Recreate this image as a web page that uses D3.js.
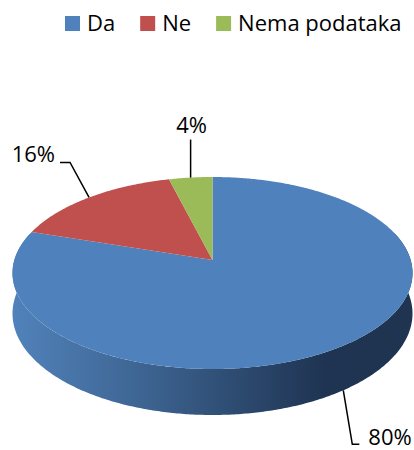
<!DOCTYPE html>
<html>
<head>
<meta charset="utf-8">
<script src="https://cdn.jsdelivr.net/npm/d3@7"></script>
<style>
  html, body { margin: 0; padding: 0; background: #fff; }
  svg { display: block; font-family: "Open Sans", sans-serif; }
</style>
</head>
<body>
<div id="chart"></div>
<script>
const categories = ["Da", "Ne", "Nema podataka"]
const values = [80, 16, 4]
const labels = ["80%", "16%", "4%"]
const colors = ["#4f81bd", "#c0504d", "#9bbb59"]

const width = 414
const height = 450

// where the tilted disk sits on screen
const cx = 212.5
const topY = 177      // far edge of the top face
const apexY = 260     // centre of the pie
const frontY = 369    // near edge of the top face
const halfW = 200     // half width of the disk
const depth = 46      // side thickness at the front

// solve a simple perspective: y = y0 + k / (z0 + cos a)
const ratio = (frontY - apexY) / (apexY - topY)
const z0 = (1 + ratio) / (ratio - 1)
const k = (apexY - topY) * z0 * (z0 + 1)
const y0 = apexY - k / z0
const maxX = Math.sqrt(1 - 1 / (z0 * z0)) / (z0 - 1 / z0)
const f = halfW / maxX
const thick = depth * (z0 - 1)

function proj(a, h) {
    const z = z0 + Math.cos(a)
    return [cx + f * Math.sin(a) / z, y0 + (k + h * thick) / z]
}

const svg = d3.select("#chart")
    .append("svg")
    .attr("width", width)
    .attr("height", height)

const grad = svg.append("defs")
    .append("linearGradient")
    .attr("id", "side")
    .attr("gradientUnits", "userSpaceOnUse")
    .attr("x1", cx - halfW).attr("x2", cx + halfW)
    .attr("y1", 0).attr("y2", 0)
grad.selectAll("stop")
    .data([[0, "#5182bb"], [0.3, "#3f6795"], [0.55, "#2e4c72"], [0.78, "#1f3452"], [1, "#1f3450"]])
    .join("stop")
    .attr("offset", d => d[0])
    .attr("stop-color", d => d[1])

const pie = d3.pie().sort(null).startAngle(0).endAngle(2 * Math.PI)
const arcs = pie(values)

function rim(a0, a1, h) {
    const n = Math.max(2, Math.ceil((a1 - a0) / 0.01))
    return d3.range(n + 1).map(i => proj(a0 + (a1 - a0) * i / n, h))
}

// visible side wall (front half)
const frontA = Math.PI / 2 - 0.3
const frontB = 3 * Math.PI / 2 + 0.3
const line = d3.line()

svg.append("g")
    .selectAll("path")
    .data(arcs.filter(d => d.endAngle > frontA && d.startAngle < frontB))
    .join("path")
    .attr("d", d => {
        const a0 = Math.max(d.startAngle, frontA)
        const a1 = Math.min(d.endAngle, frontB)
        return line(rim(a0, a1, 0).concat(rim(a0, a1, 1).reverse())) + "Z"
    })
    .attr("fill", (d, i) => d.index === 0 ? "url(#side)" : d3.color(colors[d.index]).darker(1.2))

// top face
svg.append("g")
    .selectAll("path")
    .data(arcs)
    .join("path")
    .attr("d", d => line([[cx, apexY]].concat(rim(d.startAngle, d.endAngle, 0))) + "Z")
    .attr("fill", (d, i) => colors[i])

// labels with leader lines
const mid = d => (d.startAngle + d.endAngle) / 2
const leaders = [
    d => { const p = proj(mid(d), 1); return [p, [p[0] + 9, p[1] + 54], [p[0] + 16, p[1] + 54]] },
    d => { const p = proj(mid(d), 0); return [p, [p[0] - 19, p[1] - 35], [p[0] - 29, p[1] - 35]] },
    d => { const p = proj(mid(d), 0); return [p, [p[0], p[1] - 38]] }
]
const textPos = [
    d => { const p = proj(mid(d), 1); return [p[0] + 25, p[1] + 55, "start"] },
    d => { const p = proj(mid(d), 0); return [p[0] - 34, p[1] - 35, "end"] },
    d => { const p = proj(mid(d), 0); return [p[0] + 1, p[1] - 45, "middle"] }
]

svg.append("g")
    .selectAll("path")
    .data(arcs)
    .join("path")
    .attr("d", d => line(leaders[d.index](d)))
    .attr("fill", "none")
    .attr("stroke", "#000")
    .attr("stroke-width", 1.5)

svg.append("g")
    .selectAll("text")
    .data(arcs)
    .join("text")
    .each(function(d) {
        const t = textPos[d.index](d)
        d3.select(this).attr("x", t[0]).attr("y", t[1]).attr("text-anchor", t[2])
    })
    .attr("font-size", 22)
    .attr("fill", "#000")
    .text(d => labels[d.index])

// legend
const legend = svg.append("g")
let lx = 65
categories.forEach((c, i) => {
    legend.append("rect")
        .attr("x", lx).attr("y", 16)
        .attr("width", 15).attr("height", 15)
        .attr("fill", colors[i])
    const t = legend.append("text")
        .attr("x", lx + 22).attr("y", 31)
        .attr("font-size", 22)
        .attr("fill", "#000")
        .text(c)
    lx += 22 + t.node().getComputedTextLength() + 25
})
</script>
</body>
</html>
